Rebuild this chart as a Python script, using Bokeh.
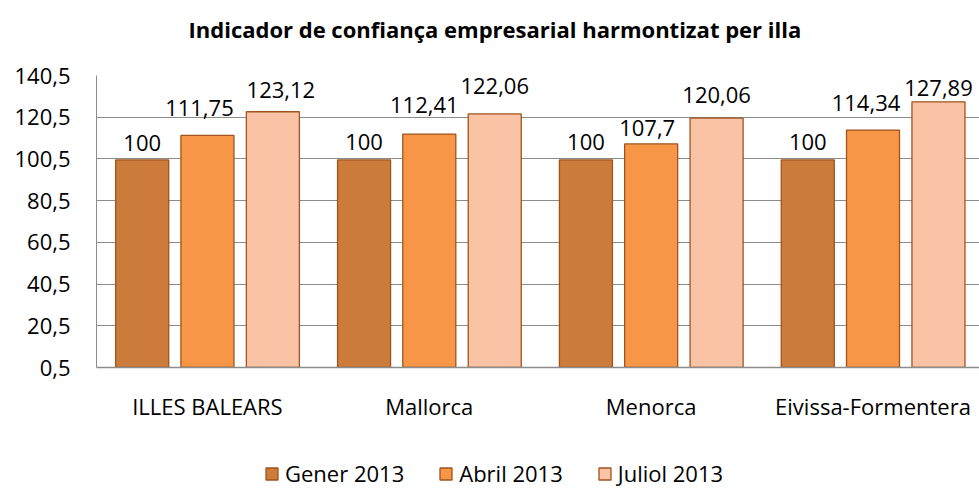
from bokeh.plotting import figure
from bokeh.layouts import column
from bokeh.models import (ColumnDataSource, Range1d, FixedTicker, LabelSet,
                          Legend, LegendItem, Label)
from bokeh.embed import file_html
from bokeh.resources import INLINE
from bokeh.core.properties import value

# ---- data ----
islands = ["ILLES BALEARS", "Mallorca", "Menorca", "Eivissa-Formentera"]
series_names = ["Gener 2013", "Abril 2013", "Juliol 2013"]
gener = [100, 100, 100, 100]
abril = [111.75, 112.41, 107.7, 114.34]
juliol = [123.12, 122.06, 120.06, 127.89]
y_ticks = [0.5, 20.5, 40.5, 60.5, 80.5, 100.5, 120.5, 140.5]
title_text = "Indicador de confiança empresarial harmontizat per illa"

# ---- style ----
fills = ["#CC7B3A", "#F79646", "#FAC3A6"]
outline = "#A0531C"
grid_col = "#8C8C8C"
font = "Open Sans"
offsets = [-0.294, 0.0, 0.295]
bar_w = 0.239
x_end = 3.98          # visible part of the 4 category slots (last slot runs past the edge)
# label nudges (px) as placed in the original chart
label_dx = [[0, 0, 0, 0], [-8, -5, -4, -7], [8, 0, 0, 0]]
label_dy = [[9, 10, 10, 10], [19, 21, 8, 19], [14, 20, 15, 6]]


def fmt(v):
    return f"{v:g}".replace(".", ",")


def strip(h):
    f = figure(width=979, height=h, output_backend="svg", toolbar_location=None,
               x_range=Range1d(0, 1), y_range=Range1d(0, 1), min_border=0)
    f.axis.visible = False
    f.grid.grid_line_color = None
    f.outline_line_color = None
    return f


# ---- title strip ----
pt = strip(55)
pt.add_layout(Label(x=92, y=27, x_units="screen", y_units="screen", text=title_text,
                    text_font=font, text_font_style="bold", text_font_size="22px",
                    text_baseline="middle", text_align="left", text_color="#000000"))

# ---- main chart ----
p = figure(x_range=Range1d(0, x_end), y_range=Range1d(0.5, 140.5),
           width=979, height=388, output_backend="svg", toolbar_location=None,
           min_border_left=96, min_border_right=0, min_border_top=20, min_border_bottom=76)

centers = [k + 0.5 for k in range(len(islands))]
renderers = []
for i, vals in enumerate([gener, abril, juliol]):
    xs = [c + offsets[i] for c in centers]
    src = ColumnDataSource(dict(x=xs, top=vals, lab=[fmt(v) for v in vals]))
    r = p.vbar(x="x", top="top", bottom=0.5, width=bar_w, source=src,
               fill_color=fills[i], line_color=outline, line_width=1.3)
    renderers.append(r)
    for j in range(len(islands)):
        s = ColumnDataSource(dict(x=[xs[j]], y=[vals[j]], lab=[fmt(vals[j])]))
        p.add_layout(LabelSet(x="x", y="y", text="lab", source=s,
                              text_align="center", text_baseline="alphabetic",
                              x_offset=label_dx[i][j], y_offset=label_dy[i][j],
                              text_font=value(font), text_font_size="22px",
                              text_color="#000000"))

p.yaxis.ticker = FixedTicker(ticks=y_ticks)
p.yaxis.major_label_overrides = {t: fmt(t) for t in y_ticks}
p.yaxis.major_label_text_font = font
p.yaxis.major_label_text_font_size = "22px"
p.yaxis.major_label_text_color = "#000000"
p.yaxis.major_tick_out = 0
p.yaxis.major_tick_in = 0
p.yaxis.minor_tick_line_color = None
p.yaxis.major_label_standoff = 26
p.yaxis.axis_line_color = grid_col

p.xaxis.ticker = FixedTicker(ticks=centers)
p.xaxis.major_label_overrides = {c: n for c, n in zip(centers, islands)}
p.xaxis.major_label_text_font = font
p.xaxis.major_label_text_font_size = "22px"
p.xaxis.major_label_text_color = "#000000"
p.xaxis.major_tick_out = 0
p.xaxis.major_tick_in = 0
p.xaxis.minor_tick_line_color = None
p.xaxis.major_label_standoff = 23
p.xaxis.axis_line_color = grid_col
p.xaxis.axis_line_width = 1.5

p.xgrid.grid_line_color = None
p.ygrid.grid_line_color = grid_col
p.ygrid.grid_line_width = 1
p.outline_line_color = None

# ---- legend strip ----
pl = strip(45)
nan = float("nan")
leg_r = []
for i in range(3):
    # undrawn (NaN) stand-in so the legend swatch takes this series' style
    leg_r.append(pl.vbar(x=[nan], top=[nan], bottom=nan, width=0.1,
                         fill_color=fills[i], line_color=outline, line_width=1.3))
legend = Legend(items=[LegendItem(label=series_names[i], renderers=[leg_r[i]])
                       for i in range(3)],
                orientation="horizontal", location=(168, 0),
                glyph_width=15, glyph_height=15, label_standoff=6, spacing=34,
                padding=0, margin=0, border_line_color=None, background_fill_alpha=0,
                label_text_font=font, label_text_font_size="22px",
                label_text_line_height=1.0, label_height=22,
                label_text_color="#000000")
pl.add_layout(legend, "center")

layout = column(pt, p, pl, spacing=0)
open("out.html", "w").write(file_html(layout, INLINE))
